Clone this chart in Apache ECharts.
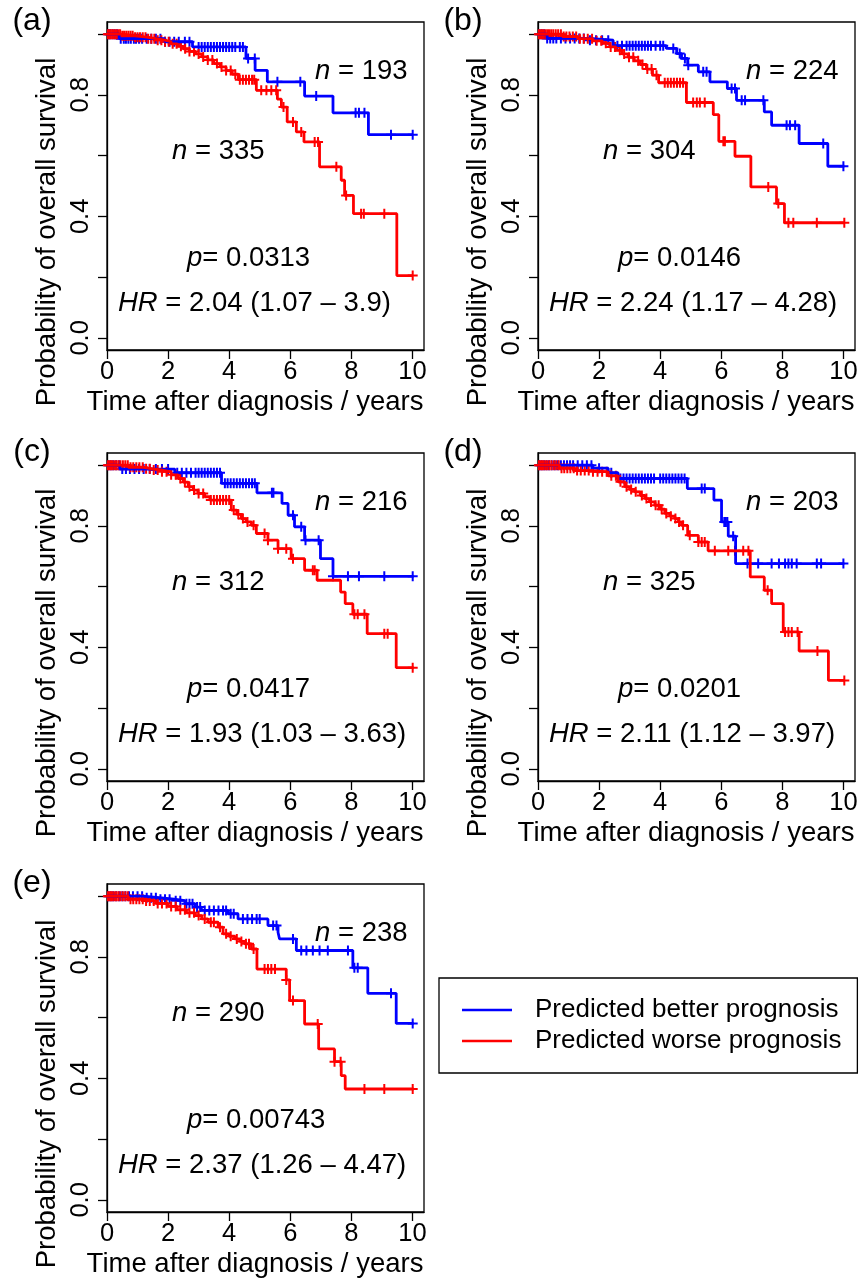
<!DOCTYPE html>
<html><head><meta charset="utf-8">
<script src="https://cdn.jsdelivr.net/npm/echarts@6/dist/echarts.min.js"></script>
<style>html,body{margin:0;padding:0;background:#fff}#c{width:862px;height:1280px}</style>
</head><body><div id="c"></div><script>
// ---------- DATA ----------
const panelLetters = ['(a)','(b)','(c)','(d)','(e)'];
const nBetter = [193, 224, 216, 203, 238];
const nWorse = [335, 304, 312, 325, 290];
const pValues = ['0.0313', '0.0146', '0.0417', '0.0201', '0.00743'];
const hrValues = ['2.04 (1.07 – 3.9)', '2.24 (1.17 – 4.28)', '1.93 (1.03 – 3.63)', '2.11 (1.12 – 3.97)', '2.37 (1.26 – 4.47)'];
const xTickValues = [0, 2, 4, 6, 8, 10];
const yTickValues = [0, 0.2, 0.4, 0.6, 0.8, 1.0];
const yLabelValues = [0, 0.4, 0.8];
const legendNames = ['Predicted better prognosis', 'Predicted worse prognosis'];

// (a)
const aBetterTime = [0, 0.4, 1.9, 2.8, 4.55, 4.85, 5.25, 6.47, 7.40, 8.56, 10.02];
const aBetterSurv = [1, 0.985, 0.975, 0.958, 0.92, 0.881, 0.843, 0.796, 0.741, 0.669, 0.669];
const aBetterCensor = [0.05,0.1,0.18,0.25,0.33,0.45,0.55,0.62,0.7,0.78,0.88,0.95,1.05,1.15,1.3,1.45,1.6,1.75,1.9,2.05,2.2,2.35,2.55,2.7,3.0,3.1,3.2,3.3,3.4,3.5,3.6,3.7,3.8,3.9,4.0,4.1,4.2,4.35,4.45,4.62,4.84,5.58,6.33,6.85,8.14,8.25,8.43,9.3,10.01];
const aWorseTime = [0, 0.5, 0.9, 1.3, 1.6, 1.9, 2.1, 2.3, 2.5, 2.7, 2.9, 3.1, 3.3, 3.5, 3.7, 3.9, 4.1, 4.3, 4.89, 5.58, 5.71, 5.9, 6.2, 6.45, 6.96, 7.67, 7.78, 8.07, 9.49, 10.02];
const aWorseSurv = [1, 0.995, 0.99, 0.985, 0.98, 0.975, 0.968, 0.96, 0.952, 0.943, 0.935, 0.925, 0.915, 0.903, 0.892, 0.88, 0.868, 0.85, 0.815, 0.786, 0.76, 0.711, 0.678, 0.645, 0.563, 0.519, 0.469, 0.409, 0.205, 0.205];
const aWorseCensor = [0.03,0.08,0.12,0.17,0.22,0.27,0.32,0.38,0.43,0.5,0.56,0.63,0.7,0.77,0.84,0.92,1.0,1.08,1.17,1.26,1.35,1.45,1.55,1.66,1.78,1.9,2.02,2.15,2.28,2.42,2.56,2.7,2.85,3.0,3.15,3.3,3.45,3.6,3.75,3.9,4.05,4.2,4.35,4.45,4.55,4.65,4.75,4.82,5.05,5.22,5.38,5.54,5.78,6.09,6.36,6.8,6.91,7.51,7.83,8.32,8.41,9.08,10.01];
// (b)
const bBetterTime = [0, 0.3, 1.65, 2.46, 4.2, 4.54, 4.70, 4.9, 5.25, 5.63, 6.2, 6.5, 7.41, 7.65, 8.55, 9.49, 10.03];
const bBetterSurv = [1, 0.986, 0.98, 0.962, 0.953, 0.936, 0.92, 0.898, 0.876, 0.843, 0.821, 0.782, 0.744, 0.7, 0.64, 0.565, 0.565];
const bBetterCensor = [0.05,0.12,0.2,0.3,0.4,0.5,0.6,0.75,0.9,1.05,1.2,1.35,1.5,1.7,1.9,2.1,2.3,2.6,2.75,2.9,3.0,3.1,3.2,3.3,3.4,3.5,3.6,3.7,3.85,4.0,4.1,4.43,4.64,4.81,4.92,5.41,5.52,6.34,6.45,6.67,6.78,7.38,8.14,8.25,8.42,9.34,10.0];
const bWorseTime = [0, 0.8, 1.3, 1.8, 2.1, 2.35, 2.55, 2.75, 2.95, 3.15, 3.35, 3.55, 3.75, 3.95, 4.86, 5.74, 5.92, 6.45, 6.97, 7.81, 8.07, 10.03];
const bWorseSurv = [1, 0.992, 0.985, 0.978, 0.97, 0.958, 0.947, 0.935, 0.924, 0.912, 0.9, 0.885, 0.865, 0.84, 0.775, 0.735, 0.647, 0.598, 0.497, 0.442, 0.379, 0.379];
const bWorseCensor = [0.03,0.08,0.13,0.18,0.24,0.3,0.36,0.43,0.5,0.58,0.66,0.75,0.84,0.93,1.03,1.14,1.25,1.37,1.5,1.63,1.77,1.92,2.07,2.22,2.38,2.52,2.68,2.82,2.98,3.12,3.28,3.42,3.58,3.72,3.88,4.15,4.25,4.35,4.45,4.55,4.65,4.75,5.08,5.2,5.3,5.46,6.07,6.12,7.54,7.87,8.2,8.36,9.13,10.03];
// (c)
const cBetterTime = [0, 0.42, 2.22, 3.75, 4.91, 5.73, 5.93, 6.14, 6.47, 6.99, 7.40, 10.04];
const cBetterSurv = [1, 0.987, 0.975, 0.94, 0.909, 0.874, 0.835, 0.797, 0.753, 0.692, 0.634, 0.634];
const cBetterCensor = [0.05,0.12,0.2,0.3,0.4,0.5,0.62,0.75,0.9,1.05,1.2,1.4,1.6,1.8,2.0,2.3,2.45,2.6,2.75,2.9,3.0,3.1,3.2,3.3,3.4,3.5,3.6,3.7,3.86,3.95,4.05,4.15,4.25,4.35,4.45,4.55,4.65,4.75,4.84,5.4,5.45,6.09,6.36,6.5,6.93,7.4,7.89,8.25,9.08,10.01];
const cWorseTime = [0, 0.7, 1.2, 1.5, 1.79, 2.1, 2.33, 2.5, 2.66, 2.82, 2.98, 3.2, 3.37, 4.07, 4.25, 4.40, 4.55, 4.73, 4.89, 5.27, 5.6, 6.03, 6.47, 6.88, 7.65, 7.80, 8.05, 8.52, 9.47, 10.04];
const cWorseSurv = [1, 0.993, 0.988, 0.984, 0.978, 0.968, 0.956, 0.944, 0.929, 0.918, 0.907, 0.896, 0.885, 0.852, 0.838, 0.824, 0.813, 0.802, 0.775, 0.753, 0.725, 0.692, 0.654, 0.621, 0.582, 0.544, 0.509, 0.445, 0.333, 0.333];
const cWorseCensor = [0.03,0.08,0.13,0.18,0.24,0.3,0.37,0.44,0.52,0.6,0.68,0.77,0.86,0.96,1.06,1.17,1.28,1.4,1.53,1.66,1.8,1.95,2.1,2.25,2.4,2.55,2.7,2.85,3.0,3.15,3.4,3.5,3.6,3.7,3.8,3.9,4.0,4.15,4.3,4.45,4.6,4.8,5.16,5.27,5.6,5.87,6.09,6.74,6.8,8.1,8.21,8.43,9.08,9.19,10.01];
// (d)
const dBetterTime = [0, 1.8, 2.3, 2.62, 4.89, 5.76, 6.01, 6.23, 6.47, 10.03];
const dBetterSurv = [1, 0.99, 0.975, 0.956, 0.923, 0.885, 0.813, 0.766, 0.676, 0.676];
const dBetterCensor = [0.05,0.12,0.2,0.28,0.36,0.45,0.55,0.65,0.75,0.85,0.95,1.05,1.15,1.3,1.45,1.6,1.75,2.0,2.4,2.7,2.8,2.9,3.0,3.1,3.2,3.3,3.4,3.5,3.6,3.7,3.8,4.0,4.1,4.2,4.3,4.4,4.5,4.6,4.7,4.8,5.36,5.46,6.1,6.15,6.2,6.39,6.86,7.21,7.65,7.89,8.09,8.2,8.31,8.47,9.13,9.27,10.0];
const dWorseTime = [0, 0.7, 1.2, 1.75, 2.3, 2.62, 2.84, 3.0, 3.17, 3.35, 3.5, 3.65, 3.83, 4.0, 4.15, 4.32, 4.48, 4.6, 4.70, 4.90, 5.25, 5.57, 6.95, 7.41, 7.65, 8.03, 8.55, 9.51, 10.03];
const dWorseSurv = [1, 0.99, 0.982, 0.978, 0.965, 0.945, 0.929, 0.92, 0.912, 0.9, 0.89, 0.879, 0.868, 0.855, 0.841, 0.832, 0.824, 0.813, 0.802, 0.769, 0.747, 0.718, 0.632, 0.588, 0.544, 0.451, 0.388, 0.291, 0.291];
const dWorseCensor = [0.03,0.08,0.13,0.18,0.24,0.3,0.37,0.44,0.52,0.6,0.68,0.77,0.86,0.96,1.06,1.17,1.28,1.4,1.53,1.66,1.8,1.95,2.1,2.25,2.4,2.55,2.7,2.9,3.05,3.2,3.4,3.55,3.7,3.85,3.95,4.05,4.2,4.35,4.5,4.62,4.75,4.97,5.25,5.36,5.46,5.79,6.23,6.45,6.72,6.89,7.52,8.09,8.2,8.31,8.5,9.15,10.03];
// (e)
const eBetterTime = [0, 1.2, 1.7, 2.2, 2.55, 2.88, 3.09, 3.97, 4.29, 5.27, 5.60, 5.65, 6.20, 8.05, 8.54, 9.47, 10.04];
const eBetterSurv = [1, 0.995, 0.99, 0.985, 0.975, 0.964, 0.953, 0.942, 0.925, 0.903, 0.881, 0.859, 0.821, 0.764, 0.680, 0.581, 0.581];
const eBetterCensor = [0.05,0.12,0.2,0.3,0.4,0.5,0.6,0.72,0.85,1.0,1.15,1.3,1.45,1.6,1.75,1.9,2.05,2.25,2.4,2.6,2.7,2.8,2.95,3.05,3.2,3.35,3.5,3.65,3.8,3.9,4.05,4.15,4.45,4.6,4.75,4.9,5.0,5.44,5.55,6.09,6.36,6.53,6.74,6.96,7.23,7.89,8.1,8.21,9.3,10.01];
const eWorseTime = [0, 0.7, 1.2, 1.6, 2.0, 2.3, 2.6, 2.88, 3.1, 3.31, 3.64, 3.80, 4.0, 4.18, 4.35, 4.51, 4.73, 4.91, 5.87, 5.98, 6.47, 6.93, 7.45, 7.67, 7.80, 10.04];
const eWorseSurv = [1, 0.99, 0.984, 0.976, 0.966, 0.955, 0.945, 0.936, 0.925, 0.914, 0.898, 0.876, 0.868, 0.859, 0.851, 0.843, 0.826, 0.76, 0.724, 0.656, 0.579, 0.497, 0.455, 0.409, 0.365, 0.365];
const eWorseCensor = [0.03,0.08,0.13,0.18,0.24,0.3,0.37,0.44,0.52,0.6,0.68,0.77,0.86,0.96,1.06,1.17,1.28,1.4,1.53,1.66,1.8,1.95,2.1,2.25,2.4,2.55,2.7,2.85,3.0,3.2,3.4,3.5,3.7,3.9,4.05,4.25,4.4,4.55,4.65,4.8,5.16,5.27,5.38,5.5,5.87,6.09,6.9,7.45,7.65,8.43,9.08,10.01];

// ---------- LAYOUT ----------
const FONT = "'Liberation Sans', Arial, Helvetica, sans-serif";
const BLUE = '#0000FF', RED = '#FF0000';
const origins = [[107,22],[538,22],[107,453],[538,453],[107,884]];
const GW = 317, GH = 328;
const annotPos = {nTop:[208,49], nMid:[65,129], p:[80,236], hr:[11,281]};
const CROSS = 'path://M4,0H6V4H10V6H6V10H4V6H0V4H4Z';

const curves = [
  [aBetterTime,aBetterSurv,aBetterCensor,aWorseTime,aWorseSurv,aWorseCensor],
  [bBetterTime,bBetterSurv,bBetterCensor,bWorseTime,bWorseSurv,bWorseCensor],
  [cBetterTime,cBetterSurv,cBetterCensor,cWorseTime,cWorseSurv,cWorseCensor],
  [dBetterTime,dBetterSurv,dBetterCensor,dWorseTime,dWorseSurv,dWorseCensor],
  [eBetterTime,eBetterSurv,eBetterCensor,eWorseTime,eWorseSurv,eWorseCensor]
];

function survAt(T, S, t){ let v = S[0]; for (let i=0;i<T.length;i++){ if (T[i] <= t) v = S[i]; } return v; }

const grids = [], xAxes = [], yAxes = [], series = [], graphics = [];
const axisLineStyle = {color:'#000', width:1.3};
origins.forEach((o, i) => {
  grids.push({left:o[0], top:o[1], width:GW, height:GH, show:true, borderColor:'#000', borderWidth:1.3,
    backgroundColor:'transparent', containLabel:false, outerBoundsMode:'none'});
  xAxes.push({gridIndex:i, type:'value', min:0, max:10.38,
    axisLine:{show:true, onZero:false, lineStyle:axisLineStyle},
    axisTick:{show:true, inside:false, length:9, lineStyle:axisLineStyle, customValues:xTickValues},
    axisLabel:{show:true, customValues:xTickValues, margin:9, fontSize:25.5, color:'#000', fontFamily:FONT},
    splitLine:{show:false}});
  yAxes.push({gridIndex:i, type:'value', min:-0.04, max:1.04,
    axisLine:{show:true, onZero:false, lineStyle:axisLineStyle},
    axisTick:{show:true, inside:false, length:9, lineStyle:axisLineStyle, customValues:yTickValues},
    axisLabel:{show:true, customValues:yLabelValues, rotate:90, margin:13, fontSize:25.5, color:'#000', fontFamily:FONT,
      formatter: v => Number(v).toFixed(1)},
    splitLine:{show:false}});
  const c = curves[i];
  const groups = [[c[0],c[1],c[2],BLUE,legendNames[0]], [c[3],c[4],c[5],RED,legendNames[1]]];
  groups.forEach(g => {
    const [T,S,C,col,nm] = g;
    series.push({type:'line', name:nm, xAxisIndex:i, yAxisIndex:i, step:'end', showSymbol:false, symbol:'none',
      data:T.map((t,k)=>[t,S[k]]), lineStyle:{color:col, width:2.8}, itemStyle:{color:col}, animation:false, silent:true});
    series.push({type:'scatter', name:nm+' censored', xAxisIndex:i, yAxisIndex:i, symbol:CROSS, symbolSize:10,
      data:C.map(t=>[t, survAt(T,S,t)]), itemStyle:{color:col, opacity:1}, animation:false, silent:true, clip:false});
  });
  const txt = (x, y, text, opts) => graphics.push(Object.assign({type:'text', x:x, y:y, silent:true,
    style:Object.assign({text:text, fill:'#000', fontSize:27.5, fontFamily:FONT, align:'left', verticalAlign:'middle',
      rich:{i:{fontStyle:'italic', fontSize:27.5, fontFamily:FONT, fill:'#000'}, r:{fontSize:27.5, fontFamily:FONT, fill:'#000'}}}, opts||{})}));
  txt(o[0]+annotPos.nTop[0], o[1]+annotPos.nTop[1], '{i|n}{r| = ' + nBetter[i] + '}');
  txt(o[0]+annotPos.nMid[0], o[1]+annotPos.nMid[1], '{i|n}{r| = ' + nWorse[i] + '}');
  txt(o[0]+annotPos.p[0], o[1]+annotPos.p[1], '{i|p}{r|= ' + pValues[i] + '}');
  txt(o[0]+annotPos.hr[0], o[1]+annotPos.hr[1], '{i|HR}{r| = ' + hrValues[i] + '}');
  graphics.push({type:'text', x:o[0]-75, y:o[1]-1, silent:true,
    style:{text:panelLetters[i], fill:'#000', fontSize:32, fontFamily:FONT, align:'center', verticalAlign:'middle'}});
  graphics.push({type:'text', x:o[0]+148, y:o[1]+380, silent:true,
    style:{text:'Time after diagnosis / years', fill:'#000', fontSize:27.5, fontFamily:FONT, align:'center', verticalAlign:'middle'}});
  graphics.push({type:'text', x:o[0]-60, y:o[1]+210, rotation:Math.PI/2, silent:true,
    style:{text:'Probability of overall survival', fill:'#000', fontSize:27.5, fontFamily:FONT, align:'center', verticalAlign:'middle'}});
});

const chart = echarts.init(document.getElementById('c'), null, {renderer:'canvas'});
chart.setOption({
  animation:false,
  backgroundColor:'#fff',
  grid:grids, xAxis:xAxes, yAxis:yAxes, series:series, graphic:graphics,
  legend:{data:legendNames, orient:'vertical', left:439, top:978, padding:[19,16,19,23], itemGap:5,
    itemWidth:50, itemHeight:2.5, icon:'rect', selectedMode:false, borderColor:'#000', borderWidth:1.3,
    textStyle:{fontSize:26, fontFamily:FONT, color:'#000', lineHeight:26, padding:[0,0,0,18]}}
});
</script></body></html>
